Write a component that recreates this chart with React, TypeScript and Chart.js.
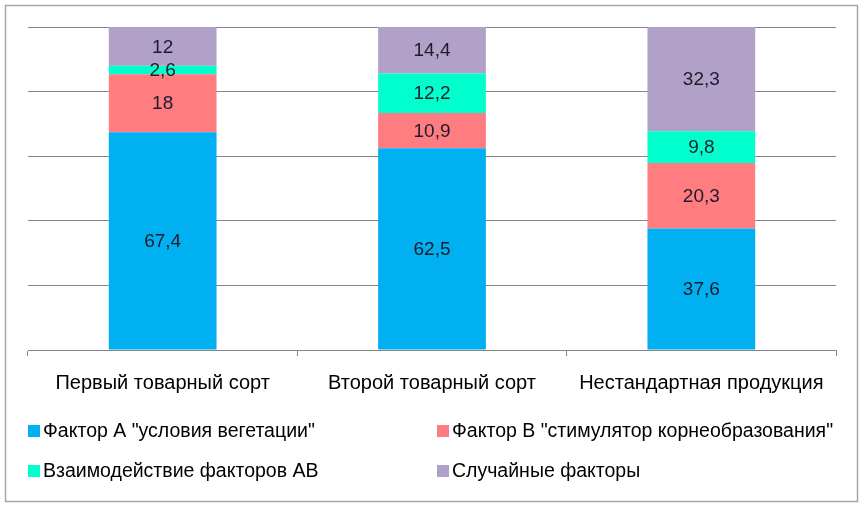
import React, { useEffect, useRef } from "react";
import { Chart, registerables } from "chart.js";

Chart.register(...registerables);

const categories = ["Первый товарный сорт", "Второй товарный сорт", "Нестандартная продукция"];
const seriesNames = [
  'Фактор А "условия вегетации"',
  'Фактор В "стимулятор корнеобразования"',
  "Взаимодействие факторов АВ",
  "Случайные факторы",
];
const factorA = [67.4, 62.5, 37.6];
const factorB = [18, 10.9, 20.3];
const interactionAB = [2.6, 12.2, 9.8];
const randomFactors = [12, 14.4, 32.3];
const seriesColors = ["#00B0F0", "#FF7C80", "#00FFCC", "#B1A0C7"];
const yTicks = [0, 20, 40, 60, 80, 100];

const FONT = "'Liberation Sans', Arial, sans-serif";

const framePlugin = {
  id: "frame",
  beforeDraw(chart: any) {
    const { ctx, width, height } = chart;
    ctx.save();
    ctx.fillStyle = "#ffffff";
    ctx.fillRect(0, 0, width, height);
    ctx.strokeStyle = "#a6a6a6";
    ctx.lineWidth = 1.5;
    ctx.strokeRect(5.5, 5.5, width - 11, height - 11);
    ctx.restore();
  },
};

const labelsPlugin = {
  id: "valueLabels",
  afterDatasetsDraw(chart: any) {
    const { ctx } = chart;
    ctx.save();
    ctx.font = `19px ${FONT}`;
    ctx.fillStyle = "#1c1c2c";
    ctx.textAlign = "center";
    ctx.textBaseline = "middle";
    chart.data.datasets.forEach((ds: any, i: number) => {
      const meta = chart.getDatasetMeta(i);
      meta.data.forEach((el: any, j: number) => {
        const v = ds.data[j];
        const c = el.getCenterPoint();
        ctx.fillText(String(v).replace(".", ","), c.x, c.y + 1);
      });
    });
    ctx.restore();
  },
};

const legendPlugin = {
  id: "twoColLegend",
  afterDraw(chart: any) {
    const { ctx, chartArea } = chart;
    ctx.save();
    ctx.font = `19.5px ${FONT}`;
    ctx.textAlign = "left";
    ctx.textBaseline = "middle";
    chart.data.datasets.forEach((ds: any, i: number) => {
      const col = i % 2;
      const row = Math.floor(i / 2);
      const x = chartArea.left + (col === 0 ? 0 : 409);
      const y = chartArea.bottom + 81 + row * 40;
      ctx.fillStyle = ds.backgroundColor;
      ctx.fillRect(x, y - 6, 12, 12);
      ctx.fillStyle = "#000000";
      ctx.fillText(ds.label, x + 15, y + 1);
    });
    ctx.restore();
  },
};

export default function App() {
  const ref = useRef<HTMLCanvasElement | null>(null);
  useEffect(() => {
    if (!ref.current) return;
    const seriesData = [factorA, factorB, interactionAB, randomFactors];
    const chart = new Chart(ref.current, {
      type: "bar",
      data: {
        labels: categories,
        datasets: seriesData.map((d, i) => ({
          label: seriesNames[i],
          data: d,
          backgroundColor: seriesColors[i],
          borderWidth: 0,
          barPercentage: 0.4,
          categoryPercentage: 1,
        })),
      },
      options: {
        animation: false,
        responsive: false,
        maintainAspectRatio: false,
        layout: { padding: { top: 27, left: 28, right: 27, bottom: 97 } },
        plugins: {
          legend: { display: false },
          tooltip: { enabled: false },
          title: { display: false },
        },
        scales: {
          x: {
            stacked: true,
            grid: {
              offset: true,
              drawOnChartArea: false,
              drawTicks: true,
              tickLength: 6,
              color: "#868686",
            },
            border: { display: true, color: "#868686", width: 1 },
            ticks: {
              color: "#000000",
              padding: 15,
              font: { family: FONT, size: 20 },
              maxRotation: 0,
            },
          },
          y: {
            stacked: true,
            min: yTicks[0],
            max: yTicks[yTicks.length - 1],
            ticks: { display: false, stepSize: yTicks[1] - yTicks[0] },
            grid: { color: "#868686", drawTicks: false, tickLength: 0 },
            border: { display: false },
          },
        },
      },
      plugins: [framePlugin, labelsPlugin, legendPlugin],
    });
    return () => chart.destroy();
  }, []);
  return (
    <div style={{ position: "fixed", left: 0, top: 0, width: 863, height: 507 }}>
      <canvas ref={ref} width={863} height={507} style={{ width: 863, height: 507, display: "block" }} />
    </div>
  );
}
